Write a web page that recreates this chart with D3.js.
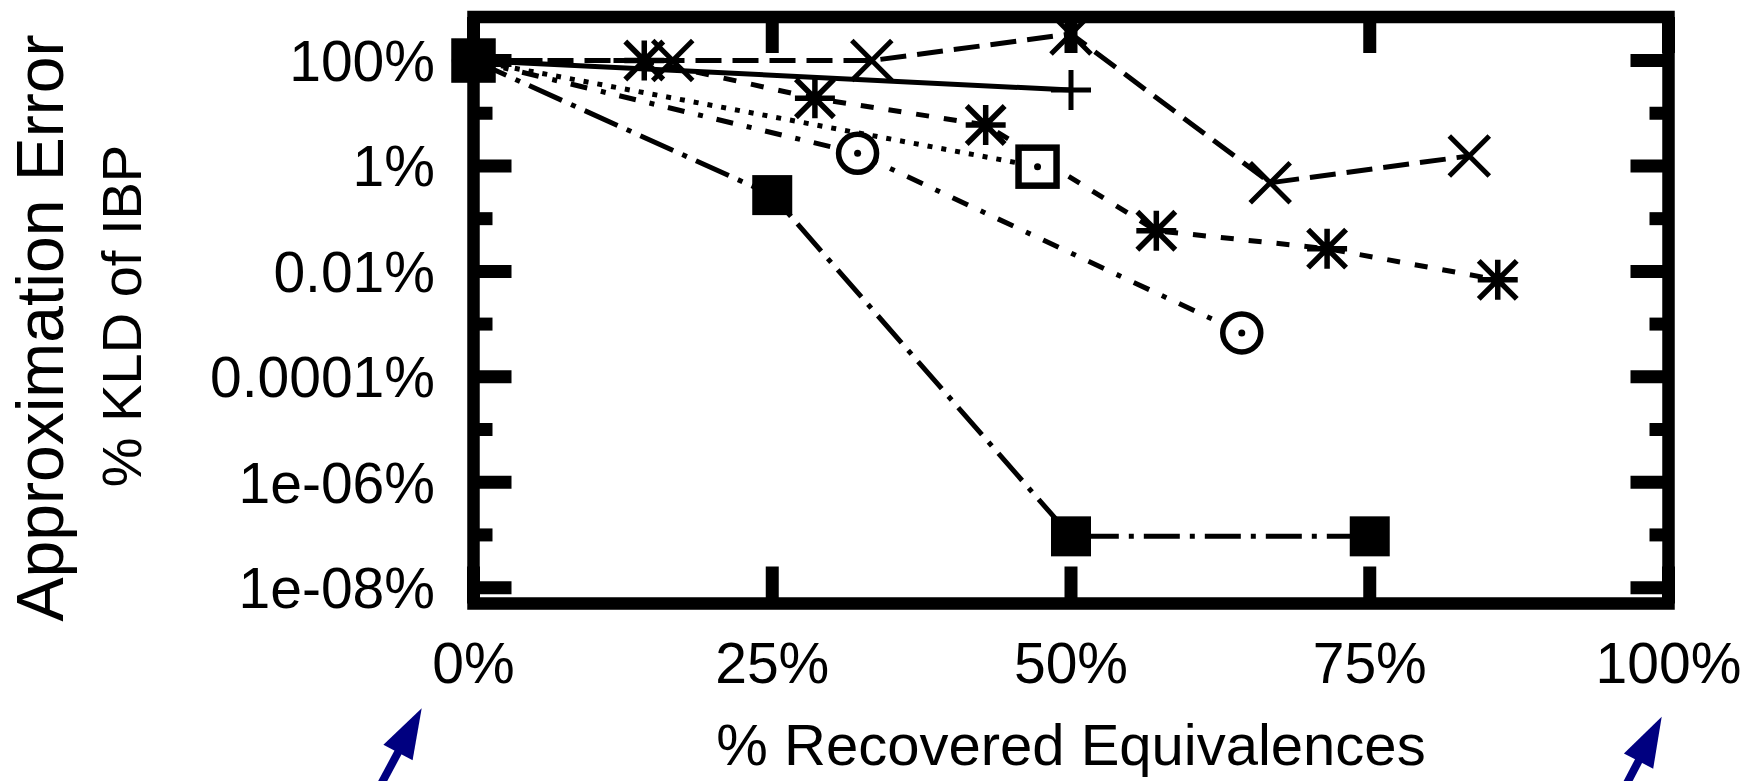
<!DOCTYPE html>
<html>
<head>
<meta charset="utf-8">
<script src="https://cdn.jsdelivr.net/npm/d3@7"></script>
<style>
  html, body { margin: 0; padding: 0; background: #fff; }
  svg { display: block; }
  text { font-family: "Liberation Sans", Arial, Helvetica, sans-serif; fill: #000; }
</style>
</head>
<body>
<svg id="chart" width="1748" height="781"></svg>
<script>
// ---------------- data ----------------
// x: % recovered equivalences, y: approximation error (% KLD of IBP)
const plusX      = [0, 50];
const plusY      = [100, 27.6];

const crossX     = [0, 16.67, 33.33, 50, 66.67, 83.33];
const crossY     = [100, 100, 100, 320, 0.48, 1.55];

const starX      = [0, 14.29, 28.57, 42.86, 57.14, 71.43, 85.71];
const starY      = [100, 100, 19.2, 6.0, 0.059, 0.027, 0.0069];

const openSqX    = [0, 47.2];
const openSqY    = [100, 0.97];

const circleX    = [0, 32.14, 64.29];
const circleY    = [100, 1.74, 0.00068];

const filledSqX  = [0, 25, 50, 75];
const filledSqY  = [100, 0.28, 9.4e-8, 9.4e-8];

const xTickValues = [0, 25, 50, 75, 100];
const xTickLabels = ["0%", "25%", "50%", "75%", "100%"];
const yTickValues = [100, 1, 0.01, 0.0001, 1e-6, 1e-8];
const yTickLabels = ["100%", "1%", "0.01%", "0.0001%", "1e-06%", "1e-08%"];
const yMinorValues = [10, 0.1, 0.001, 1e-5, 1e-7];

const xDomain = [0, 100];
const yDomain = [5e-9, 670];

const xTitle = "% Recovered Equivalences";
const yTitle1 = "Approximation Error";
const yTitle2 = "% KLD of IBP";

// ---------------- layout ----------------
const svg = d3.select("#chart");
const x = d3.scaleLinear().domain(xDomain).range([473.5, 1668.5]);
const y = d3.scaleLog().domain(yDomain).range([603.5, 17]);

const frameW = 12.5;
const lineW = 5;

// ---------------- series definitions ----------------
const series = [
  { xs: plusX,     ys: plusY,     dash: null,           marker: "plus" },
  { xs: crossX,    ys: crossY,    dash: "26,11",        marker: "cross" },
  { xs: starX,     ys: starY,     dash: "13,15",        marker: "star" },
  { xs: openSqX,   ys: openSqY,   dash: "5,9",          marker: "openSquare" },
  { xs: circleX,   ys: circleY,   dash: "17,14,5,14",   marker: "openCircle" },
  { xs: filledSqX, ys: filledSqY, dash: "36,10,5,10",   marker: "filledSquare" }
];

const line = d3.line().x(d => x(d[0])).y(d => y(d[1]));

const gLines = svg.append("g");
series.forEach(s => {
  const pts = s.xs.map((v, i) => [v, s.ys[i]]);
  gLines.append("path")
    .attr("d", line(pts))
    .attr("fill", "none")
    .attr("stroke", "#000")
    .attr("stroke-width", lineW)
    .attr("stroke-linecap", "butt")
    .attr("stroke-linejoin", "miter")
    .attr("stroke-dasharray", s.dash);
});

// ---------------- markers ----------------
const M = 20; // half marker size
function drawMarker(g, type, cx, cy) {
  const m = g.append("g").attr("transform", `translate(${cx},${cy})`);
  const st = (sel, w) => sel.attr("stroke", "#000").attr("stroke-width", w || lineW).attr("fill", "none");
  if (type === "plus") {
    st(m.append("path").attr("d", `M${-M},0H${M}M0,${-M}V${M}`));
  } else if (type === "cross") {
    st(m.append("path").attr("d", `M${-M},${-M}L${M},${M}M${-M},${M}L${M},${-M}`));
  } else if (type === "star") {
    const k = M * 0.95;
    st(m.append("path").attr("d", `M${-M},0H${M}M0,${-M}V${M}M${-k},${-k}L${k},${k}M${-k},${k}L${k},${-k}`), 5.5);
  } else if (type === "openSquare") {
    const h = M - 1;
    st(m.append("rect").attr("x", -h).attr("y", -h).attr("width", 2 * h).attr("height", 2 * h), 6.5)
      .attr("fill", "#fff");
    m.append("circle").attr("r", 3.5).attr("fill", "#000");
  } else if (type === "openCircle") {
    st(m.append("circle").attr("r", M - 1), 5.5).attr("fill", "#fff");
    m.append("circle").attr("r", 3.5).attr("fill", "#000");
  } else if (type === "filledSquare") {
    m.append("rect").attr("x", -M).attr("y", -M).attr("width", 2 * M).attr("height", 2 * M).attr("fill", "#000");
  }
}

const gMarks = svg.append("g");
series.forEach(s => {
  s.xs.forEach((v, i) => {
    if (s.marker === "filledSquare") return;
    drawMarker(gMarks, s.marker, x(v), y(s.ys[i]));
  });
});
// filled squares last (the 0% one sits on top of all series' origins)
const fs = series[5];
fs.xs.forEach((v, i) => drawMarker(gMarks, "filledSquare", x(v), y(fs.ys[i])));

// ---------------- frame + ticks ----------------
const [x0, x1] = x.range();
const [yb, yt] = y.range();
const gAxes = svg.append("g");
gAxes.append("rect")
  .attr("x", x0).attr("y", yt).attr("width", x1 - x0).attr("height", yb - yt)
  .attr("fill", "none").attr("stroke", "#000").attr("stroke-width", frameW);

const tickW = 13;
const majLen = 38, minLen = 19;
yTickValues.forEach(v => {
  gAxes.append("line").attr("x1", x0).attr("x2", x0 + majLen).attr("y1", y(v)).attr("y2", y(v))
    .attr("stroke", "#000").attr("stroke-width", tickW);
  gAxes.append("line").attr("x1", x1).attr("x2", x1 - majLen).attr("y1", y(v)).attr("y2", y(v))
    .attr("stroke", "#000").attr("stroke-width", tickW);
});
yMinorValues.forEach(v => {
  gAxes.append("line").attr("x1", x0).attr("x2", x0 + minLen).attr("y1", y(v)).attr("y2", y(v))
    .attr("stroke", "#000").attr("stroke-width", tickW);
  gAxes.append("line").attr("x1", x1).attr("x2", x1 - minLen).attr("y1", y(v)).attr("y2", y(v))
    .attr("stroke", "#000").attr("stroke-width", tickW);
});
xTickValues.forEach(v => {
  gAxes.append("line").attr("x1", x(v)).attr("x2", x(v)).attr("y1", yb).attr("y2", yb - 37)
    .attr("stroke", "#000").attr("stroke-width", tickW);
  gAxes.append("line").attr("x1", x(v)).attr("x2", x(v)).attr("y1", yt).attr("y2", yt + 36)
    .attr("stroke", "#000").attr("stroke-width", tickW);
});

// ---------------- tick labels ----------------
const fsTick = 57;
yTickValues.forEach((v, i) => {
  svg.append("text").attr("x", x0 - 38.5).attr("y", y(v)).attr("dy", "0.36em")
    .attr("text-anchor", "end").attr("font-size", fsTick).text(yTickLabels[i]);
});
xTickValues.forEach((v, i) => {
  svg.append("text").attr("x", x(v)).attr("y", yb + 79)
    .attr("text-anchor", "middle").attr("font-size", fsTick).text(xTickLabels[i]);
});

// ---------------- titles ----------------
svg.append("text").attr("x", (x0 + x1) / 2).attr("y", 765)
  .attr("text-anchor", "middle").attr("font-size", 58).text(xTitle);
svg.append("text").attr("transform", "translate(63,328) rotate(-90)")
  .attr("text-anchor", "middle").attr("font-size", 66).text(yTitle1);
svg.append("text").attr("transform", "translate(141,316) rotate(-90)")
  .attr("text-anchor", "middle").attr("font-size", 56).text(yTitle2);

// ---------------- navy arrows (annotations) ----------------
function arrow(tipX, tipY, ux, uy) {
  const headLen = 50, halfW = 16.5, shaftLen = 70;
  const bx = tipX - ux * headLen, by = tipY - uy * headLen;
  const px = -uy, py = ux;
  svg.append("line")
    .attr("x1", bx + ux * 4).attr("y1", by + uy * 4)
    .attr("x2", bx - ux * shaftLen).attr("y2", by - uy * shaftLen)
    .attr("stroke", "#000080").attr("stroke-width", 8);
  svg.append("path")
    .attr("d", `M${tipX},${tipY}L${bx + px * halfW},${by + py * halfW}L${bx - px * halfW},${by - py * halfW}Z`)
    .attr("fill", "#000080");
}
arrow(x0 - 51.8, 708.3, 0.474, -0.884);
arrow(x1 - 6.8, 716.7, 0.463, -0.887);
</script>
</body>
</html>
